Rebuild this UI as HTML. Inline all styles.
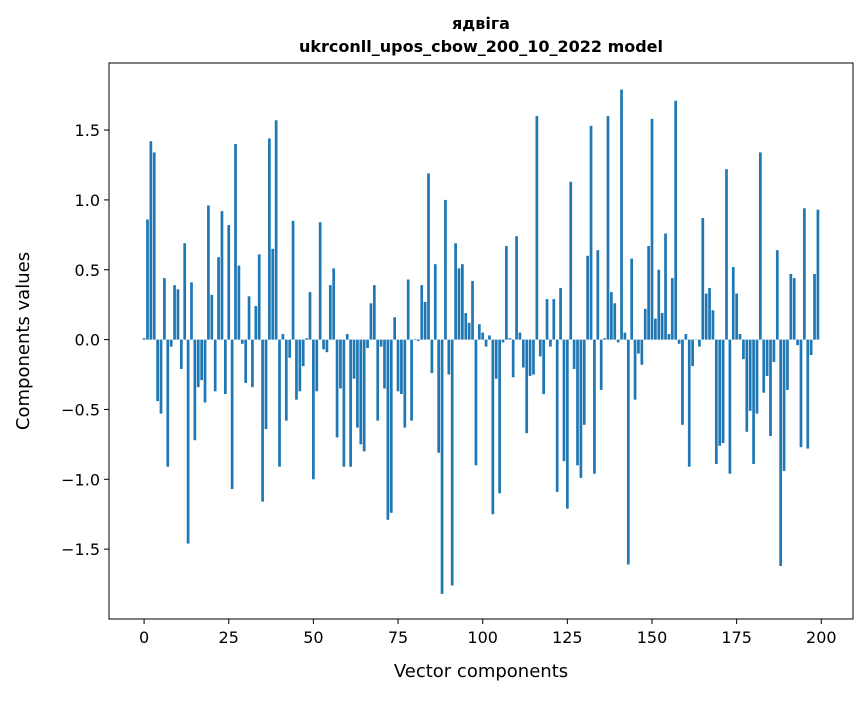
<!DOCTYPE html>
<html><head><meta charset="utf-8"><style>
body{margin:0;background:#fff;}
svg text{font-family:"DejaVu Sans","Liberation Sans",sans-serif;fill:#000;}
</style></head><body>
<svg id="chart" width="867" height="696" xmlns="http://www.w3.org/2000/svg">
<rect width="867" height="696" fill="#fff"/>
<text x="481" y="29" text-anchor="middle" font-size="16" font-weight="bold">ядвіга</text>
<text x="481" y="52" text-anchor="middle" font-size="16" font-weight="bold">ukrconll_upos_cbow_200_10_2022 model</text>
<g id="bars"></g>
<g id="axes"></g>
<text x="481" y="677" text-anchor="middle" font-size="18">Vector components</text>
<text transform="translate(29,341) rotate(-90)" text-anchor="middle" font-size="18">Components values</text>
</svg>
<script>
const values = [0.01,0.86,1.42,1.34,-0.44,-0.53,0.44,-0.91,-0.05,0.39,0.36,-0.21,0.69,-1.46,0.41,-0.72,-0.34,-0.29,-0.45,0.96,
0.32,-0.37,0.59,0.92,-0.39,0.82,-1.07,1.40,0.53,-0.03,-0.31,0.31,-0.34,0.24,0.61,-1.16,-0.64,1.44,0.65,1.57,
-0.91,0.04,-0.58,-0.13,0.85,-0.43,-0.37,-0.19,0.01,0.34,-1.00,-0.37,0.84,-0.07,-0.09,0.39,0.51,-0.70,-0.35,-0.91,
0.04,-0.91,-0.28,-0.63,-0.75,-0.80,-0.06,0.26,0.39,-0.58,-0.05,-0.35,-1.29,-1.24,0.16,-0.37,-0.39,-0.63,0.43,-0.58,
0.005,-0.01,0.39,0.27,1.19,-0.24,0.54,-0.81,-1.82,1.00,-0.25,-1.76,0.69,0.51,0.54,0.19,0.12,0.42,-0.90,0.11,
0.05,-0.05,0.03,-1.25,-0.28,-1.10,-0.02,0.67,0.01,-0.27,0.74,0.05,-0.20,-0.67,-0.26,-0.25,1.60,-0.12,-0.39,0.29,
-0.05,0.29,-1.09,0.37,-0.87,-1.21,1.13,-0.21,-0.90,-0.99,-0.61,0.60,1.53,-0.96,0.64,-0.36,0.01,1.60,0.34,0.26,
-0.02,1.79,0.05,-1.61,0.58,-0.43,-0.10,-0.18,0.22,0.67,1.58,0.15,0.50,0.19,0.76,0.04,0.44,1.71,-0.03,-0.61,
0.04,-0.91,-0.19,0.0,-0.05,0.87,0.33,0.37,0.21,-0.89,-0.76,-0.74,1.22,-0.96,0.52,0.33,0.04,-0.14,-0.66,-0.51,
-0.89,-0.53,1.34,-0.38,-0.26,-0.69,-0.16,0.64,-1.62,-0.94,-0.36,0.47,0.44,-0.04,-0.77,0.94,-0.78,-0.11,0.47,0.93];
const xTicks = [0,25,50,75,100,125,150,175,200];
const yTicks = [-1.5,-1.0,-0.5,0.0,0.5,1.0,1.5];
const xTickLabels = ["0","25","50","75","100","125","150","175","200"];
const yTickLabels = ["\u22121.5","\u22121.0","\u22120.5","0.0","0.5","1.0","1.5"];

const L=109,R=853,T=63,B=619;
const xMin=-10.36,xMax=209.36,yMin=-2.0,yMax=1.98;
const sx=v=>L+(v-xMin)/(xMax-xMin)*(R-L);
const sy=v=>T+(yMax-v)/(yMax-yMin)*(B-T);
const NS="http://www.w3.org/2000/svg";
const bars=document.getElementById('bars');
values.forEach((v,i)=>{
  const r=document.createElementNS(NS,'rect');
  
  
  const x0=sx(i-0.4),x1=sx(i+0.4);
  const y0=sy(Math.max(v,0)),y1=sy(Math.min(v,0));
  r.setAttribute('x',x0);r.setAttribute('width',x1-x0);
  r.setAttribute('y',y0);r.setAttribute('height',Math.max(y1-y0,0.3));
  r.setAttribute('fill','#1f77b4');
  bars.appendChild(r);
});
const axes=document.getElementById('axes');
const frame=document.createElementNS(NS,'rect');


frame.setAttribute('x',L);frame.setAttribute('y',T);frame.setAttribute('width',R-L);frame.setAttribute('height',B-T);
frame.setAttribute('fill','none');frame.setAttribute('stroke','#000');frame.setAttribute('stroke-width','1');
axes.appendChild(frame);
xTicks.forEach((t,i)=>{
  const x=sx(t);
  const l=document.createElementNS(NS,'line');
  
  
  l.setAttribute('x1',x);l.setAttribute('x2',x);l.setAttribute('y1',B);l.setAttribute('y2',B+5);l.setAttribute('stroke','#000');
  axes.appendChild(l);
  const tx=document.createElementNS(NS,'text');
  
  
  tx.setAttribute('x',x);tx.setAttribute('y',B+24);tx.setAttribute('text-anchor','middle');tx.setAttribute('font-size','16');
  tx.textContent=xTickLabels[i];
  axes.appendChild(tx);
});
yTicks.forEach((t,i)=>{
  const y=sy(t);
  const l=document.createElementNS(NS,'line');
  
  
  l.setAttribute('x1',L-5);l.setAttribute('x2',L);l.setAttribute('y1',y);l.setAttribute('y2',y);l.setAttribute('stroke','#000');
  axes.appendChild(l);
  const tx=document.createElementNS(NS,'text');
  
  
  tx.setAttribute('x',L-9);tx.setAttribute('y',y+6);tx.setAttribute('text-anchor','end');tx.setAttribute('font-size','16');
  tx.textContent=yTickLabels[i];
  axes.appendChild(tx);
});
</script>
</body></html>
